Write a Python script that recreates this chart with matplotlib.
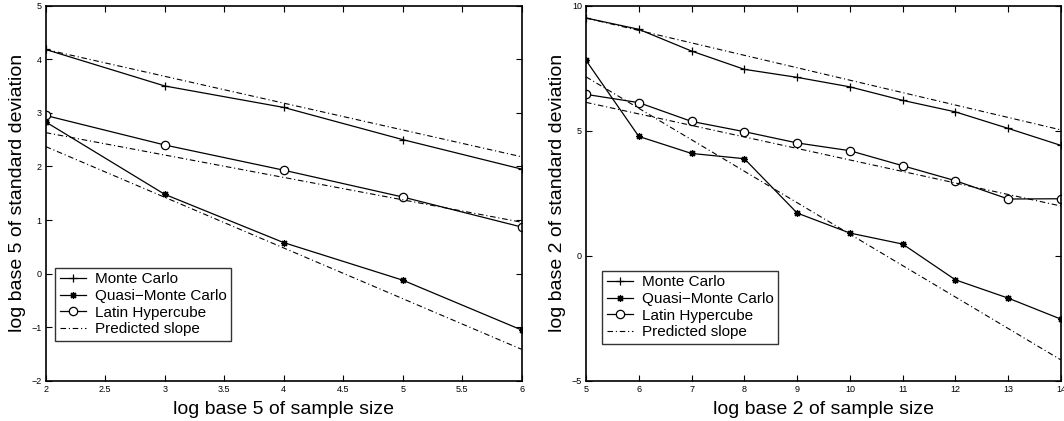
import matplotlib
matplotlib.use("Agg")
import matplotlib.pyplot as plt

plt.rcParams['font.family'] = ['Liberation Sans', 'DejaVu Sans']

# base-5 experiment
x5 = [2, 3, 4, 5, 6]
mc5 = [4.18, 3.50, 3.10, 2.50, 1.95]
qmc5 = [2.83, 1.48, 0.58, -0.12, -1.05]
lh5 = [2.95, 2.40, 1.93, 1.43, 0.87]
# predicted slopes: endpoints at x=2 and x=6
pred5_x = [2, 6]
pred5_mc = [4.18, 2.18]
pred5_lh = [2.63, 0.96]
pred5_qmc = [2.37, -1.41]

# base-2 experiment
x2 = [5, 6, 7, 8, 9, 10, 11, 12, 13, 14]
mc2 = [9.50, 9.05, 8.18, 7.45, 7.13, 6.75, 6.21, 5.75, 5.09, 4.41]
qmc2 = [7.81, 4.77, 4.09, 3.88, 1.71, 0.91, 0.47, -0.96, -1.69, -2.53]
lh2 = [6.45, 6.12, 5.37, 4.96, 4.51, 4.20, 3.60, 3.00, 2.27, 2.28]
pred2_x = [5, 14]
pred2_mc = [9.50, 5.03]
pred2_lh = [6.13, 1.99]
pred2_qmc = [7.15, -4.16]

names = ['Monte Carlo', 'Quasi\u2212Monte Carlo', 'Latin Hypercube', 'Predicted slope']
dashdot = (0, (5, 2.5, 1, 2.5))
asterisk = (8, 2, 0)


def fmt(t):
    return ('%g' % t).replace('-', '\u2212')


def panel(ax, x, mc, qmc, lh, px, pmc, plh, pqmc, xlim, ylim, xticks, yticks, base, leg_xy):
    ax.plot(x, mc, '-', color='k', lw=0.9, marker='+', ms=6, mew=0.9)
    ax.plot(x, qmc, '-', color='k', lw=0.9, marker=asterisk, ms=5, mew=0.9)
    ax.plot(x, lh, '-', color='k', lw=0.9, marker='o', ms=6, mfc='white', mew=0.9)
    ax.plot(px, pmc, color='k', lw=0.8, linestyle=dashdot)
    ax.plot(px, plh, color='k', lw=0.8, linestyle=dashdot)
    ax.plot(px, pqmc, color='k', lw=0.8, linestyle=dashdot)

    ax.set_xlim(*xlim)
    ax.set_ylim(*ylim)
    ax.set_xticks(xticks)
    ax.set_yticks(yticks)
    ax.set_xticklabels([fmt(t) for t in xticks])
    ax.set_yticklabels([fmt(t) for t in yticks])
    ax.tick_params(direction='in', top=True, right=True, length=4, width=0.8,
                   labelsize=6.5, pad=3)
    for s in ax.spines.values():
        s.set_linewidth(1.2)

    ax.set_xlabel('log base %d of sample size' % base, fontsize=14)
    ax.set_ylabel('log base %d of standard deviation' % base, fontsize=14)
    ax.xaxis.set_label_coords(0.5, -0.052)
    ax.yaxis.set_label_coords(-0.042, 0.5)

    leg = ax.legend(ax.lines[:4], names, loc='lower left', bbox_to_anchor=leg_xy,
                    fontsize=11, frameon=True, fancybox=False, borderaxespad=0,
                    handlelength=1.7, labelspacing=0.17, borderpad=0.3, handletextpad=0.6)
    leg.get_frame().set_edgecolor('k')
    leg.get_frame().set_linewidth(1.0)


fig = plt.figure(figsize=(10.64, 4.21), dpi=100)
ax1 = fig.add_axes([45.7 / 1064, 40 / 421, 476 / 1064, 375.5 / 421])
ax2 = fig.add_axes([586 / 1064, 40 / 421, 475 / 1064, 375.5 / 421])

panel(ax1, x5, mc5, qmc5, lh5, pred5_x, pred5_mc, pred5_lh, pred5_qmc,
      (2, 6), (-2, 5), [2, 2.5, 3, 3.5, 4, 4.5, 5, 5.5, 6], list(range(-2, 6)), 5,
      (0.02, 0.107))
panel(ax2, x2, mc2, qmc2, lh2, pred2_x, pred2_mc, pred2_lh, pred2_qmc,
      (5, 14), (-5, 10), list(range(5, 15)), [-5, 0, 5, 10], 2,
      (0.034, 0.099))

fig.savefig('out.png', dpi=100)
